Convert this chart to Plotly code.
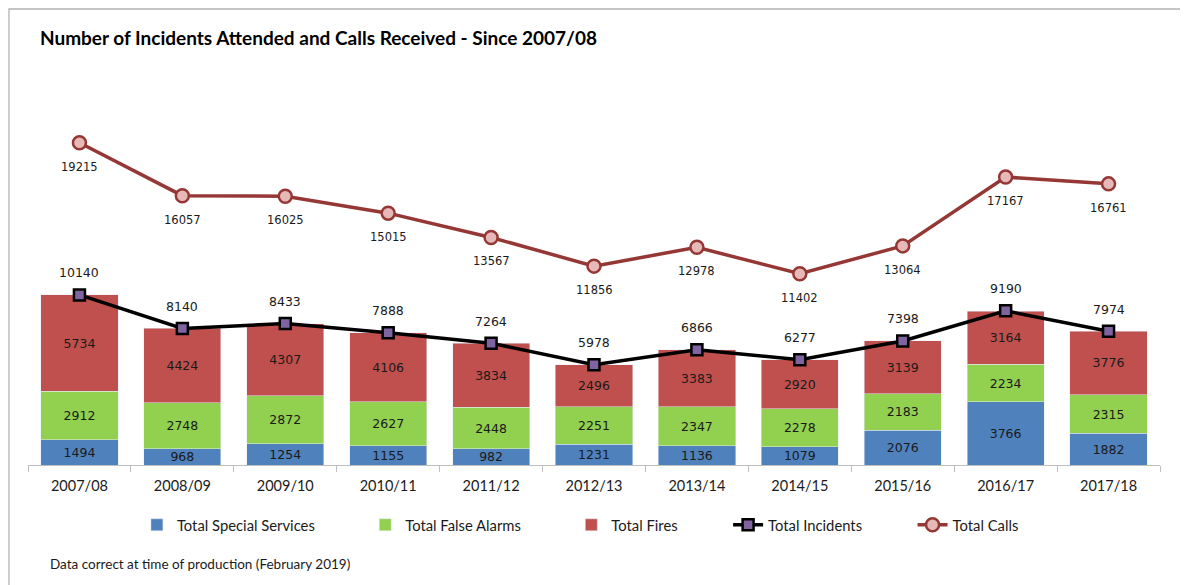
import plotly.graph_objects as go

# Données
annees = ["2007/08", "2008/09", "2009/10", "2010/11", "2011/12", "2012/13",
          "2013/14", "2014/15", "2015/16", "2016/17", "2017/18"]
special_services = [1494, 968, 1254, 1155, 982, 1231, 1136, 1079, 2076, 3766, 1882]
false_alarms = [2912, 2748, 2872, 2627, 2448, 2251, 2347, 2278, 2183, 2234, 2315]
fires = [5734, 4424, 4307, 4106, 3834, 2496, 3383, 2920, 3139, 3164, 3776]
total_incidents = [10140, 8140, 8433, 7888, 7264, 5978, 6866, 6277, 7398, 9190, 7974]
total_calls = [19215, 16057, 16025, 15015, 13567, 11856, 12978, 11402, 13064, 17167, 16761]

police = "Lato, Open Sans, sans-serif"
police_chiffres = "DejaVu Sans, Verdana, sans-serif"
espace = "\u00a0" * 12  # espacement entre les éléments de la légende

fig = go.Figure()

# Barres empilées
for nom, valeurs, couleur in [
    ("Total Special Services", special_services, "#4F81BD"),
    ("Total False Alarms", false_alarms, "#92D050"),
    ("Total Fires", fires, "#C0504D"),
]:
    fig.add_trace(go.Bar(
        x=annees, y=valeurs, name=nom + espace, marker_color=couleur,
        text=valeurs, textposition="inside", insidetextanchor="middle",
        textfont=dict(size=12.5, color="#1a1a1a", family=police_chiffres), textangle=0,
    ))

# Ligne des incidents
fig.add_trace(go.Scatter(
    x=annees, y=total_incidents, name="Total Incidents" + espace, mode="lines+markers",
    line=dict(color="black", width=3.5),
    marker=dict(symbol="square", size=11, color="#8064A2", line=dict(color="black", width=2.5)),
))

# Ligne des appels
fig.add_trace(go.Scatter(
    x=annees, y=total_calls, name="Total Calls", mode="lines+markers",
    line=dict(color="#953735", width=3.5),
    marker=dict(symbol="circle", size=13, color="#E6B9B8", line=dict(color="#953735", width=2.5)),
))

# Étiquettes des lignes
for a, v in zip(annees, total_incidents):
    fig.add_annotation(x=a, y=v, text=str(v), showarrow=False, yshift=22,
                       font=dict(size=12.5, color="#1a1a1a", family=police_chiffres))
for a, v in zip(annees, total_calls):
    fig.add_annotation(x=a, y=v, text=str(v), showarrow=False, yshift=-24,
                       font=dict(size=11.5, color="#1a1a1a", family=police_chiffres))

# La page html ajoute une marge de 8 px : on compense
fig.update_layout(
    barmode="stack",
    bargap=0.25,
    width=1188, height=585,
    margin=dict(l=20, r=36, t=88, b=128, autoexpand=False),
    plot_bgcolor="white", paper_bgcolor="white",
    font=dict(family=police, size=13, color="#1a1a1a"),
    title=dict(
        text="<b>Number of Incidents Attended and Calls Received - Since 2007/08</b>",
        x=32 / 1188, xref="container", xanchor="left",
        y=1 - 30 / 585, yref="container", yanchor="middle",
        font=dict(size=19, color="black", family=police),
    ),
    xaxis=dict(
        range=[-0.5, 10.5], automargin=False,
        showline=True, linecolor="#bfbfbf", linewidth=1,
        ticks="outside", tickson="boundaries", ticklen=6, tickcolor="#bfbfbf",
        ticklabelstandoff=8, tickfont=dict(size=14.5), showgrid=False,
    ),
    yaxis=dict(range=[0, 22000], visible=False),
    legend=dict(
        orientation="h", x=0.488, xanchor="center", y=-0.163, yanchor="middle",
        font=dict(size=14.8), traceorder="normal",
    ),
    showlegend=True,
    uniformtext=dict(minsize=12.5, mode="show"),
)

# Cadre du graphique (bord haut et bord gauche de la figure)
fig.add_shape(type="rect", xref="paper", yref="paper", x0=-0.0168, x1=1.2, y0=-0.6, y1=1.2358,
              line=dict(color="#b3b3b3", width=1.3), fillcolor="rgba(0,0,0,0)", layer="above")

fig.add_annotation(
    text="Data correct at time of production (February 2019)",
    xref="paper", yref="paper", x=(48 - 28) / 1132, y=(465 - 564) / 369,
    xanchor="left", yanchor="middle", showarrow=False,
    font=dict(size=13.5, color="#1a1a1a"),
)

fig.write_html("out.html")
